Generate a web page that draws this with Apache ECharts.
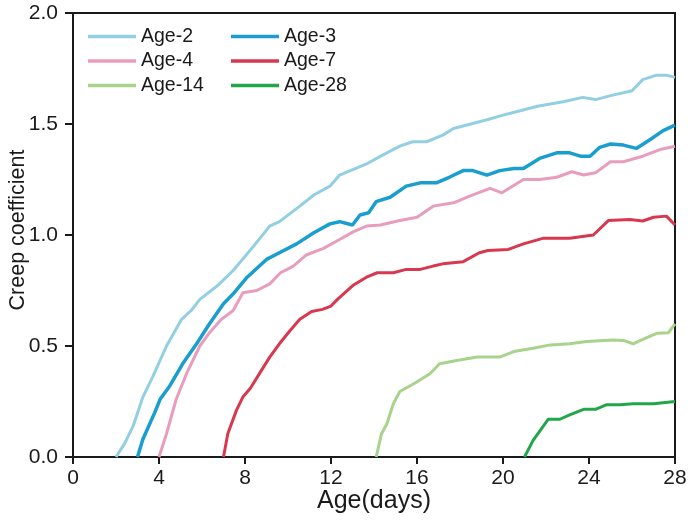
<!DOCTYPE html>
<html>
<head>
<meta charset="utf-8">
<script src="https://cdn.jsdelivr.net/npm/echarts@6/dist/echarts.min.js"></script>
<style>
  html, body { margin: 0; padding: 0; background: #fff; }
  #chart { width: 688px; height: 522px; }
</style>
</head>
<body>
<div id="chart"></div>
<script>
// Creep coefficient vs. age for specimens loaded at different ages.
// Each series is a list of [age (days), creep coefficient] points.
const age2 = [[2.0,0],[2.4,0.06],[2.8,0.14],[3.25,0.27],[3.7,0.36],[4.35,0.50],[5.05,0.62],[5.5,0.66],[5.9,0.71],[6.7,0.77],[7.45,0.84],[8.4,0.95],[9.15,1.04],[9.6,1.06],[10.55,1.13],[11.2,1.18],[11.95,1.22],[12.4,1.27],[12.9,1.29],[13.65,1.32],[14.4,1.36],[15.2,1.40],[15.8,1.42],[16.45,1.42],[17.2,1.45],[17.7,1.48],[18.5,1.50],[19.3,1.52],[20.0,1.54],[20.8,1.56],[21.6,1.58],[22.8,1.60],[23.7,1.62],[24.3,1.61],[25.1,1.63],[26.0,1.65],[26.5,1.70],[27.15,1.72],[27.6,1.72],[28,1.71]];
const age3 = [[3.0,0],[3.25,0.08],[3.8,0.20],[4.05,0.26],[4.5,0.32],[5.1,0.42],[5.75,0.51],[6.35,0.60],[7.0,0.69],[7.5,0.74],[8.1,0.81],[9.0,0.89],[9.6,0.92],[10.4,0.96],[11.2,1.01],[11.95,1.05],[12.4,1.06],[13.0,1.045],[13.35,1.09],[13.75,1.10],[14.1,1.15],[14.75,1.17],[15.5,1.22],[16.15,1.235],[16.9,1.235],[17.5,1.26],[18.15,1.29],[18.6,1.29],[19.25,1.27],[19.85,1.29],[20.5,1.30],[20.95,1.30],[21.7,1.345],[22.5,1.37],[23.1,1.37],[23.6,1.355],[24.05,1.355],[24.5,1.395],[25.0,1.41],[25.6,1.405],[26.2,1.39],[26.85,1.43],[27.45,1.47],[28,1.495]];
const age4 = [[4.0,0],[4.35,0.105],[4.8,0.26],[5.3,0.38],[5.9,0.50],[6.35,0.56],[6.9,0.62],[7.45,0.66],[7.9,0.74],[8.55,0.75],[9.15,0.78],[9.65,0.83],[10.25,0.86],[10.85,0.91],[11.65,0.94],[12.4,0.98],[13.05,1.015],[13.65,1.04],[14.3,1.045],[15.2,1.065],[16.0,1.08],[16.75,1.13],[17.7,1.145],[18.45,1.175],[19.4,1.21],[19.95,1.19],[20.95,1.25],[21.7,1.25],[22.5,1.26],[23.2,1.285],[23.75,1.27],[24.3,1.28],[25.0,1.33],[25.6,1.33],[26.5,1.355],[27.3,1.385],[28,1.40]];
const age7 = [[7.0,0],[7.2,0.105],[7.6,0.21],[7.9,0.27],[8.25,0.31],[8.7,0.38],[9.15,0.45],[9.6,0.51],[10.1,0.57],[10.55,0.62],[11.1,0.655],[11.6,0.665],[12.0,0.68],[12.3,0.71],[13.05,0.775],[13.65,0.81],[14.15,0.83],[14.9,0.83],[15.5,0.845],[16.15,0.845],[16.75,0.86],[17.2,0.87],[18.15,0.88],[18.9,0.92],[19.3,0.93],[20.25,0.935],[20.95,0.96],[21.85,0.985],[23.1,0.985],[24.2,1.0],[24.9,1.065],[25.9,1.07],[26.5,1.063],[27.0,1.08],[27.6,1.085],[28,1.045]];
const age14 = [[14.1,0],[14.35,0.105],[14.6,0.15],[14.9,0.24],[15.2,0.295],[15.85,0.33],[16.6,0.375],[17.05,0.42],[17.85,0.435],[18.8,0.45],[19.85,0.45],[20.5,0.475],[21.4,0.49],[22.2,0.505],[23.1,0.51],[23.9,0.52],[25.1,0.527],[25.6,0.525],[26.05,0.51],[26.5,0.53],[27.15,0.557],[27.7,0.56],[27.85,0.58],[28,0.60]];
const age28 = [[21.0,0],[21.4,0.075],[22.1,0.17],[22.65,0.17],[23.1,0.19],[23.75,0.215],[24.3,0.215],[24.8,0.235],[25.45,0.235],[26.05,0.24],[27.0,0.24],[28,0.25]];

const seriesNames = ['Age-2', 'Age-3', 'Age-4', 'Age-7', 'Age-14', 'Age-28'];
const seriesData = [age2, age3, age4, age7, age14, age28];
const seriesColors = ['#93cfe3', '#1a9dcf', '#e99dbd', '#d8384f', '#a9d38d', '#22a64a'];
const seriesWidths = [3, 3.5, 3, 3, 3, 3];

const xTicks = { min: 0, max: 28, step: 4 };
const yTicks = { min: 0, max: 2.0, step: 0.5 };

const FONT = '"Liberation Sans", Arial, sans-serif';
const INK = '#1a1a1a';

const chart = echarts.init(document.getElementById('chart'), null, { renderer: 'canvas' });

// Two stacked legend columns, drawn as plain line swatches
const legendBase = {
  orient: 'vertical',
  top: 21.5,
  padding: 5,
  icon: 'rect',
  itemWidth: 48,
  itemHeight: 3.5,
  itemGap: 4.5,
  textStyle: { fontFamily: FONT, fontSize: 19.5, color: INK, lineHeight: 19 },
  selectedMode: false
};

chart.setOption({
  animation: false,
  backgroundColor: '#ffffff',
  grid: {
    left: 73, right: 13, top: 13, bottom: 65,
    outerBoundsMode: 'none',
    containLabel: false,
    show: true, borderColor: INK, borderWidth: 2, backgroundColor: 'transparent'
  },
  legend: [
    Object.assign({}, legendBase, { left: 83, data: ['Age-2', 'Age-4', 'Age-14'] }),
    Object.assign({}, legendBase, { left: 226, data: ['Age-3', 'Age-7', 'Age-28'] })
  ],
  xAxis: {
    type: 'value',
    min: xTicks.min, max: xTicks.max, interval: xTicks.step,
    name: 'Age(days)',
    nameLocation: 'middle',
    nameGap: 32,
    nameMoveOverlap: false,
    nameTextStyle: { fontFamily: FONT, fontSize: 25, color: INK },
    axisLine: { show: true, lineStyle: { color: INK, width: 2 } },
    axisTick: { show: true, inside: false, length: 7, lineStyle: { color: INK, width: 2 } },
    axisLabel: { fontFamily: FONT, fontSize: 21, color: INK, margin: 11 },
    splitLine: { show: false }
  },
  yAxis: {
    type: 'value',
    min: yTicks.min, max: yTicks.max, interval: yTicks.step,
    name: 'Creep coefficient',
    nameLocation: 'middle',
    nameGap: 44,
    nameRotate: 90,
    nameMoveOverlap: false,
    nameTextStyle: { fontFamily: FONT, fontSize: 21.5, color: INK, padding: [0, 0, 0, 10] },
    axisLine: { show: true, lineStyle: { color: INK, width: 2 } },
    axisTick: { show: true, inside: false, length: 8, lineStyle: { color: INK, width: 2 } },
    axisLabel: {
      fontFamily: FONT, fontSize: 21, color: INK, margin: 15,
      formatter: v => v.toFixed(1)
    },
    splitLine: { show: false }
  },
  series: seriesNames.map((name, i) => ({
    name: name,
    type: 'line',
    data: seriesData[i],
    showSymbol: false,
    symbol: 'none',
    color: seriesColors[i],
    lineStyle: { color: seriesColors[i], width: seriesWidths[i] },
    z: 3
  }))
});
</script>
</body>
</html>
